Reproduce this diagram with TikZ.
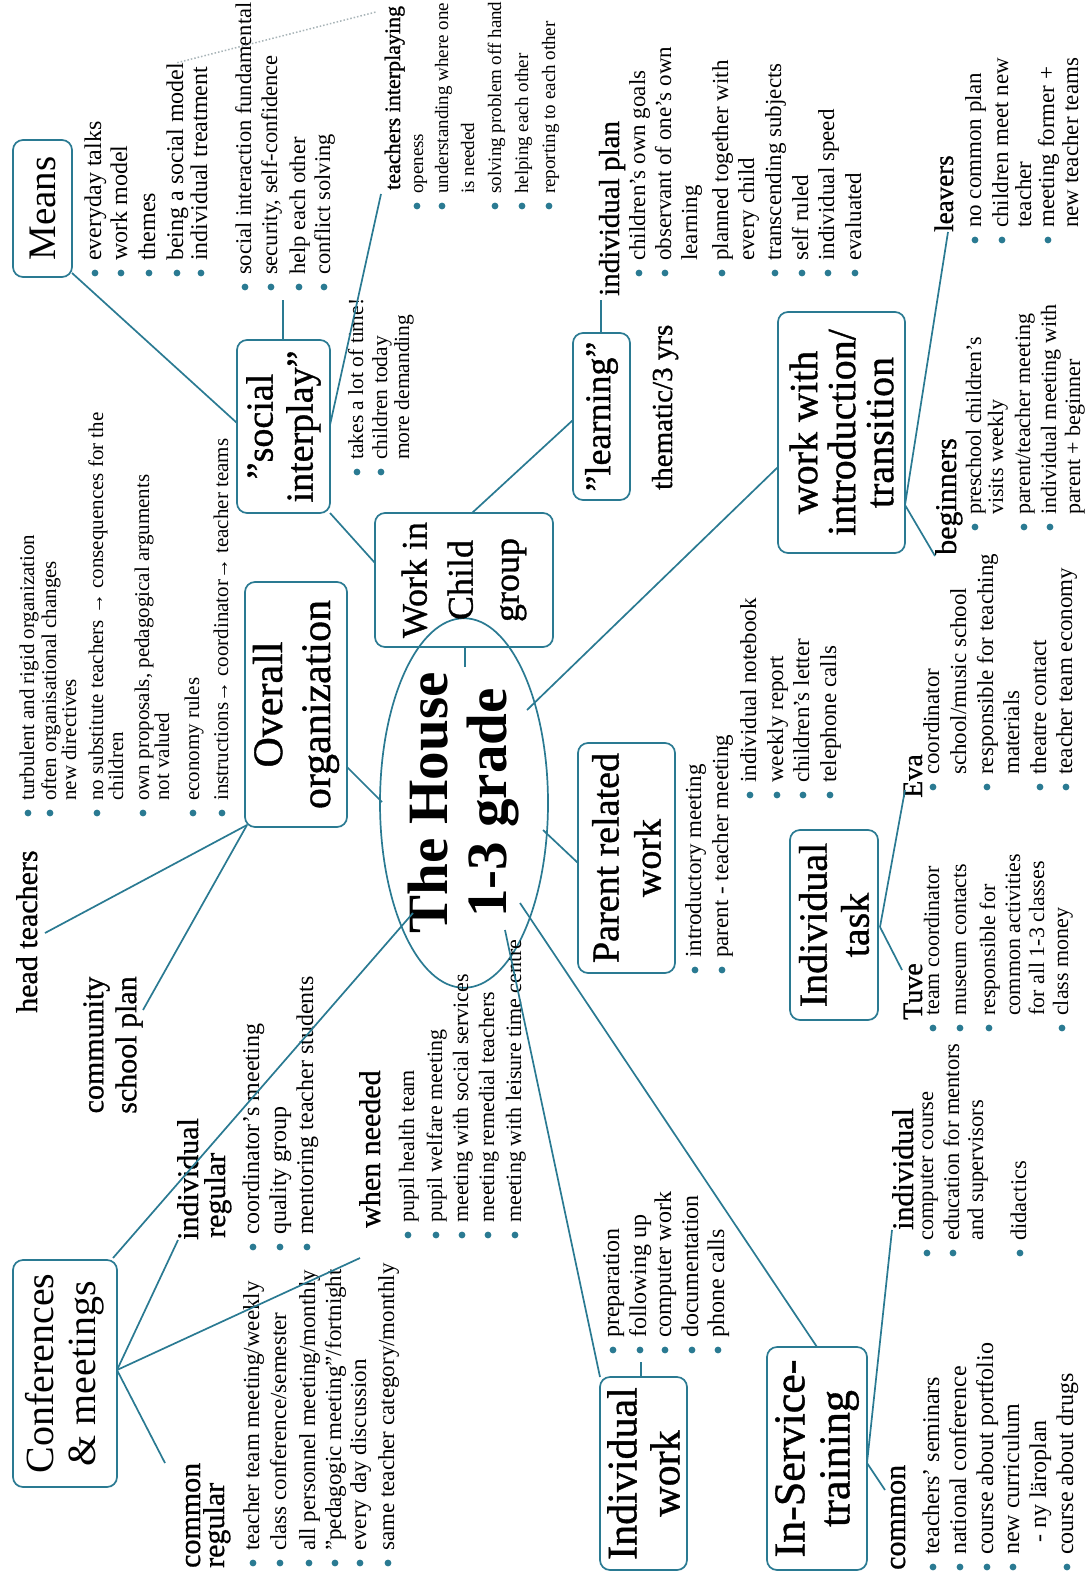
\documentclass[tikz,border=0pt]{standalone}
\usepackage{fontspec}
\setmainfont{Liberation Serif}
\newfontfamily\sbf[FakeBold=0.9]{Liberation Serif}
\usetikzlibrary{shapes.geometric}
\definecolor{tl}{HTML}{2A7A92}
\definecolor{dotc}{HTML}{A8B4B8}
\newcommand\fsz[2]{\fontsize{#1}{#2}\selectfont}
\newcommand\lsz{23}
\tikzset{
 ln/.style={draw=tl, line width=1.7pt},
 bx/.style={draw=tl, line width=1.7pt, rounded corners=10pt, rotate=90, inner sep=0pt, align=center},
 lst/.style={rotate=90, anchor=base west, inner sep=0pt, font=\fsz{\lsz}{\lsz}},
 sub/.style={rotate=90, anchor=base west, inner sep=0pt, font=\sbf\fsz{30}{32}},
}
\newcommand\lstitem[4]{\fill[tl] (#2,#3) circle (3.4pt); \node[lst] (#1) at ({#2+6},{#3-12}) {#4};}
\newcommand\lstcont[4]{\node[lst] (#1) at ({#2+6},{#3-12}) {#4};}
\begin{document}
\begin{tikzpicture}[x=1pt,y=-1pt]
\useasboundingbox (0,0) rectangle (1087,1576);
\fill[white] (0,0) rectangle (1087,1576);

% ---------- boxes ----------
\node[ellipse, draw=tl, line width=1.7pt, rotate=90, minimum width=273pt, minimum height=168pt, inner sep=0pt, align=center, font=\bfseries\fsz{57}{59}] (hub) at (464,803) {The House\\1-3 grade};
\node[bx, minimum width=137pt, minimum height=59pt, font=\fsz{39}{41}] (means) at (42.5,208.5) {Means};
\node[bx, minimum width=173pt, minimum height=93pt, font=\sbf\fsz{38}{40}] (social) at (283.5,426.5) {”social\\interplay”};
\node[bx, minimum width=134pt, minimum height=178pt, font=\sbf\fsz{36}{46}] (work) at (464,580) {Work in\\Child\\group};
\node[bx, minimum width=167pt, minimum height=57pt, font=\sbf\fsz{36}{38}] (learn) at (601.5,416.5) {”learning”};
\node[bx, minimum width=245pt, minimum height=102pt, font=\sbf\fsz{42}{48}] (overall) at (296,704.5) {Overall\\organization};
\node[bx, minimum width=230pt, minimum height=97pt, font=\sbf\fsz{38}{42}] (parent) at (626.5,858) {Parent related\\work};
\node[bx, minimum width=190pt, minimum height=88pt, font=\sbf\fsz{40}{42}] (itask) at (834,925) {Individual\\task};
\node[bx, minimum width=241pt, minimum height=127pt, font=\sbf\fsz{40}{38}] (wwith) at (841.5,432.5) {work with\\introduction/\\transition};
\node[bx, minimum width=193pt, minimum height=87pt, font=\sbf\fsz{42}{43}] (iwork) at (643.5,1473.5) {Individual\\work};
\node[bx, minimum width=223pt, minimum height=100pt, font=\sbf\fsz{44}{45}] (inserv) at (817,1458.5) {In-Service-\\training};
\node[bx, minimum width=227pt, minimum height=104pt, font=\fsz{40}{42}] (conf) at (65,1373.5) {Conferences\\\& meetings};

% ---------- headings ----------
\node[sub, font=\sbf\fsz{22}{24}] (ti) at (400,190) {teachers interplaying};
\node[sub, font=\sbf\fsz{29}{30}] (ip) at (619,296) {individual plan};
\node[sub, font=\sbf\fsz{29}{30}] (th) at (672,490) {thematic/3 yrs};
\node[sub, font=\sbf\fsz{28}{30}] (eva) at (922,798) {Eva};
\node[sub, font=\sbf\fsz{28}{30}] (tuve) at (922,1020) {Tuve};
\node[sub, font=\sbf\fsz{27}{29}] (lv) at (953,232) {leavers};
\node[sub] (bg) at (956,555) {beginners};
\node[sub] (isi) at (913,1230) {individual};
\node[sub] (isc) at (905,1570) {common};
\node[sub] (cr1) at (200,1568) {common};
\node[sub] (cr2) at (224,1568) {regular};
\node[sub] (ir1) at (198,1240) {individual};
\node[sub] (ir2) at (225,1238) {regular};
\node[sub] (wn) at (380,1228) {when needed};
\node[sub] (ht) at (37,1013) {head teachers};
\node[rotate=90, inner sep=0pt, align=center, font=\sbf\fsz{30}{33}] (csp) at (113,1045) {community\\school plan};

% ---------- lists ----------
\renewcommand\lsz{24}
\lstitem{m1}{95}{273}{everyday talks}
\lstitem{m2}{121}{273}{work model}
\lstitem{m3}{149}{273}{themes}
\lstitem{m4}{177}{273}{being a social model}
\lstitem{m5}{201}{273}{individual treatment}

\renewcommand\lsz{22.5}
\lstitem{s1}{245}{287}{social interaction fundamental}
\lstitem{s2}{271}{287}{security, self-confidence}
\lstitem{s3}{299}{287}{help each other}
\lstitem{s4}{324}{287}{conflict solving}

\renewcommand\lsz{19}
\lstitem{t1}{417}{206}{openess}
\lstitem{t2}{442}{206}{understanding where one}
\lstcont{t3}{468}{206}{is needed}
\lstitem{t4}{495}{206}{solving problem off hand}
\lstitem{t5}{522}{206}{helping each other}
\lstitem{t6}{549}{206}{reporting to each other}

\renewcommand\lsz{23}
\lstitem{p1}{639}{273}{children’s own goals}
\lstitem{p2}{665}{273}{observant of one’s own}
\lstcont{p3}{691}{273}{learning}
\lstitem{p4}{722}{273}{planned together with}
\lstcont{p5}{748}{273}{every child}
\lstitem{p6}{775}{273}{transcending subjects}
\lstitem{p7}{802}{273}{self ruled}
\lstitem{p8}{828}{273}{individual speed}
\lstitem{p9}{855}{273}{evaluated}

\renewcommand\lsz{21.5}
\lstitem{k1}{357}{472}{takes a lot of time!}
\lstitem{k2}{381}{472}{children today}
\lstcont{k3}{403}{472}{more demanding}

\renewcommand\lsz{21}
\lstitem{o1}{28}{813}{turbulent and rigid organization}
\lstitem{o2}{50}{813}{often organisational changes}
\lstcont{o3}{70}{813}{new directives}
\lstitem{o4}{97}{813}{no substitute teachers → consequences for the}
\lstcont{o5}{117}{813}{children}
\lstitem{o6}{143}{813}{own proposals, pedagogical arguments}
\lstcont{o7}{163}{813}{not valued}
\lstitem{o8}{193}{813}{economy rules}
\lstitem{o9}{222}{813}{instructions→ coordinator→ teacher teams}

\renewcommand\lsz{23}
\lstitem{r1}{695}{970}{introductory meeting}
\lstitem{r2}{722}{970}{parent - teacher meeting}
\lstitem{r3}{750}{795}{individual notebook}
\lstitem{r4}{777}{795}{weekly report}
\lstitem{r5}{803}{795}{children’s letter}
\lstitem{r6}{830}{795}{telephone calls}

\lstitem{e1}{933}{787}{coordinator}
\lstcont{e2}{960}{787}{school/music school}
\lstitem{e3}{987}{787}{responsible for teaching}
\lstcont{e4}{1013}{787}{materials}
\lstitem{e5}{1040}{787}{theatre contact}
\lstitem{e6}{1066}{787}{teacher team economy}

\renewcommand\lsz{22}
\lstitem{u1}{933}{1028}{team coordinator}
\lstitem{u2}{960}{1028}{museum contacts}
\lstitem{u3}{989}{1028}{responsible for}
\lstcont{u4}{1014}{1028}{common activities}
\lstcont{u5}{1038}{1028}{for all 1-3 classes}
\lstitem{u6}{1062}{1028}{class money}

\renewcommand\lsz{23}
\lstitem{v1}{975}{240}{no common plan}
\lstitem{v2}{1002}{240}{children meet new}
\lstcont{v3}{1025}{240}{teacher}
\lstitem{v4}{1048}{240}{meeting former +}
\lstcont{v5}{1072}{240}{new teacher teams}

\renewcommand\lsz{22}
\lstitem{g1}{975}{527}{preschool children’s}
\lstcont{g2}{997}{527}{visits weekly}
\lstitem{g3}{1024}{527}{parent/teacher meeting}
\lstitem{g4}{1050}{527}{individual meeting with}
\lstcont{g5}{1074}{527}{parent + beginner}

\renewcommand\lsz{24}
\lstitem{w1}{613}{1350}{preparation}
\lstitem{w2}{640}{1350}{following up}
\lstitem{w3}{665}{1350}{computer work}
\lstitem{w4}{692}{1350}{documentation}
\lstitem{w5}{718}{1350}{phone calls}

\renewcommand\lsz{22.5}
\lstitem{n1}{927}{1253}{computer course}
\lstitem{n2}{953}{1253}{education for mentors}
\lstcont{n3}{977}{1253}{and supervisors}
\lstitem{n4}{1020}{1253}{didactics}

\renewcommand\lsz{24}
\lstitem{c1}{933}{1567}{teachers’ seminars}
\lstitem{c2}{960}{1567}{national conference}
\lstitem{c3}{987}{1567}{course about portfolio}
\lstitem{c4}{1013}{1567}{new curriculum}
\lstcont{c5}{1040}{1567}{\ \ - ny läroplan}
\lstitem{c6}{1067}{1567}{course about drugs}

\renewcommand\lsz{23}
\lstitem{q1}{253}{1563}{teacher team meeting/weekly}
\lstitem{q2}{280}{1563}{class conference/semester}
\lstitem{q3}{309}{1563}{all personnel meeting/monthly}
\lstitem{q4}{335}{1563}{”pedagogic meeting”/fortnight}
\lstitem{q5}{360}{1563}{every day discussion}
\lstitem{q6}{388}{1563}{same teacher category/monthly}

\renewcommand\lsz{24}
\lstitem{j1}{253}{1247}{coordinator’s meeting}
\lstitem{j2}{280}{1247}{quality group}
\lstitem{j3}{307}{1247}{mentoring teacher students}

\renewcommand\lsz{22}
\lstitem{h1}{408}{1235}{pupil health team}
\lstitem{h2}{436}{1235}{pupil welfare meeting}
\lstitem{h3}{462}{1235}{meeting with social services}
\lstitem{h4}{488}{1235}{meeting remedial teachers}
\lstitem{h5}{515}{1235}{meeting with leisure time centre}

% ---------- connector end points ----------
\coordinate (hubN) at (465,667);  \coordinate (workS) at (465,647);
\coordinate (hubW) at (382,802);  \coordinate (ovE) at (347,767);
\coordinate (hubC) at (413,913);  \coordinate (confE) at (113,1258);
\coordinate (hubIW) at (505,930); \coordinate (iwT) at (600,1377);
\coordinate (hubIS) at (520,903); \coordinate (isT) at (817,1347);
\coordinate (hubP) at (543,830);  \coordinate (parT) at (578,863);
\coordinate (hubWW) at (527,710); \coordinate (wwT) at (778,467);
\coordinate (workL) at (375,563); \coordinate (socB) at (330,513);
\coordinate (workR) at (472,513); \coordinate (learnL) at (573,420);
\coordinate (socL) at (237,423);  \coordinate (meansC) at (72,273);
\coordinate (socT) at (283,340);  \coordinate (socList) at (283,300);
\coordinate (socR) at (330,425);  \coordinate (tiS) at (381,194);
\coordinate (ovC) at (247,825);   \coordinate (htE) at (45,933);  \coordinate (cspE) at (143,1010);
\coordinate (confF) at (117,1370); \coordinate (crE) at (165,1463); \coordinate (irE) at (178,1240); \coordinate (wnE) at (360,1258);
\coordinate (learnT) at (601,333); \coordinate (ipS) at (601,300);
\coordinate (iwTop) at (641,1377); \coordinate (iwList) at (641,1362);
\coordinate (itF) at (880,927);   \coordinate (tuveE) at (902,970); \coordinate (evaE) at (905,790);
\coordinate (isF) at (867,1463);  \coordinate (isiE) at (892,1230); \coordinate (iscE) at (885,1490);
\coordinate (wwF) at (905,505);   \coordinate (lvE) at (948,232); \coordinate (bgE) at (935,556);
\coordinate (dotE) at (376,12);

% ---------- connectors ----------
\draw[ln] (hubN) -- (workS);
\draw[ln] (hubW) -- (ovE);
\draw[ln] (hubC) -- (confE);
\draw[ln] (hubIW) -- (iwT);
\draw[ln] (hubIS) -- (isT);
\draw[ln] (hubP) -- (parT);
\draw[ln] (hubWW) -- (wwT);
\draw[ln] (workL) -- (socB);
\draw[ln] (workR) -- (learnL);
\draw[ln] (socL) -- (meansC);
\draw[ln] (socT) -- (socList);
\draw[ln] (socR) -- (tiS);
\draw[ln] (ovC) -- (htE);
\draw[ln] (ovC) -- (cspE);
\draw[ln] (confF) -- (crE);
\draw[ln] (confF) -- (irE);
\draw[ln] (confF) -- (wnE);
\draw[ln] (learnT) -- (ipS);
\draw[ln] (iwTop) -- (iwList);
\draw[ln] (itF) -- (tuveE);
\draw[ln] (itF) -- (evaE);
\draw[ln] (isF) -- (isiE);
\draw[ln] (isF) -- (iscE);
\draw[ln] (wwF) -- (lvE);
\draw[ln] (wwF) -- (bgE);
\draw[dotc, line width=1.5pt, dotted] (m4.east) -- (dotE);
\end{tikzpicture}
\end{document}
